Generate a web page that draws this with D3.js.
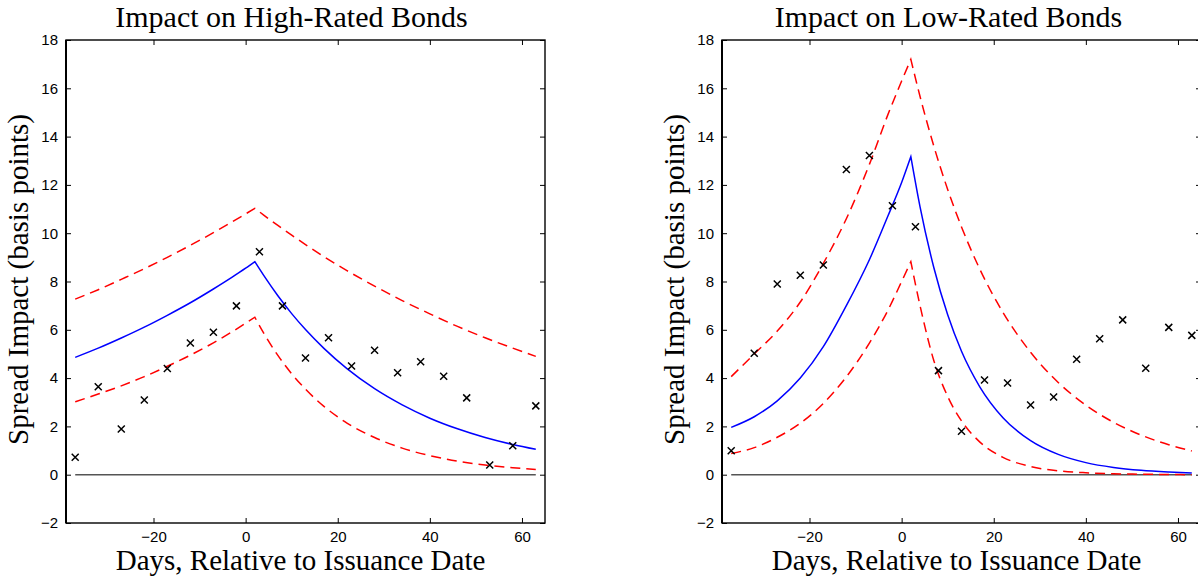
<!DOCTYPE html>
<html lang="en">
<head>
<meta charset="UTF-8">
<title>Spread Impact</title>
<script src="https://cdn.jsdelivr.net/npm/d3@7/dist/d3.min.js"></script>
<style>
    body { margin: 0; background: #fff; }
    svg { display: block; }
    .tick text { font-family: "Liberation Sans", Arial, sans-serif; font-size: 15px; fill: #000; }
    .tick line { stroke: #000; }
    .domain { display: none; }
    .title, .label { font-family: "Liberation Serif", "Times New Roman", serif; font-size: 29px; fill: #000; }
    .title { font-size: 30px; }
</style>
</head>
<body>
<svg width="1198" height="579"></svg>
<script>
// days of the fitted curves (split at the peak)
var riseDays = [-37, -32, -27, -22, -17, -12, -7, -3, 0, 2];
var fallDays = [2, 4, 7, 10, 13, 17, 22, 28, 34, 40, 46, 52, 58, 63];
// days of the observed averages
var obsDays = [-37, -32, -27, -22, -17, -12, -7, -2, 3, 8, 13, 18, 23, 28, 33, 38, 43, 48, 53, 58, 63];

// high-rated bonds
var highFitRise = [4.86, 5.24, 5.66, 6.11, 6.60, 7.12, 7.69, 8.17, 8.55, 8.82];
var highFitFall = [8.82, 8.23, 7.41, 6.67, 6.01, 5.23, 4.39, 3.56, 2.89, 2.34, 1.90, 1.54, 1.25, 1.05];
var highUpperRise = [7.27, 7.66, 8.09, 8.53, 9.00, 9.50, 10.02, 10.46, 10.80, 11.03];
var highUpperFall = [11.03, 10.74, 10.32, 9.92, 9.53, 9.03, 8.45, 7.81, 7.21, 6.66, 6.14, 5.67, 5.24, 4.90];
var highLowerRise = [3.02, 3.34, 3.68, 4.06, 4.49, 4.95, 5.46, 5.91, 6.27, 6.52];
var highLowerFall = [6.52, 5.84, 4.94, 4.18, 3.54, 2.83, 2.14, 1.54, 1.10, 0.79, 0.56, 0.40, 0.29, 0.22];
var highObs = [0.72, 3.64, 1.89, 3.09, 4.40, 5.45, 5.90, 6.99, 9.23, 6.99, 4.83, 5.67, 4.50, 5.15, 4.22, 4.68, 4.08, 3.18, 0.40, 1.20, 2.85];

// low-rated bonds
var lowFitRise = [1.96, 2.40, 3.06, 4.00, 5.30, 7.00, 8.90, 10.70, 12.10, 13.17];
var lowFitFall = [13.17, 11.09, 8.57, 6.62, 5.11, 3.63, 2.36, 1.41, 0.84, 0.50, 0.30, 0.18, 0.11, 0.07];
var lowUpperRise = [4.06, 5.00, 5.95, 7.15, 8.75, 10.60, 12.85, 14.90, 16.30, 17.20];
var lowUpperFall = [17.20, 15.66, 13.60, 11.81, 10.26, 8.50, 6.72, 5.07, 3.82, 2.88, 2.17, 1.64, 1.24, 0.98];
var lowLowerRise = [0.88, 1.12, 1.55, 2.13, 2.95, 4.05, 5.45, 6.80, 8.00, 8.82];
var lowLowerFall = [8.82, 7.00, 4.72, 3.24, 2.23, 1.35, 0.72, 0.34, 0.16, 0.08, 0.04, 0.02, 0.01, 0.00];
var lowObs = [0.99, 5.03, 7.90, 8.26, 8.68, 12.64, 13.22, 11.14, 10.27, 4.31, 1.80, 3.92, 3.80, 2.89, 3.22, 4.78, 5.63, 6.41, 4.41, 6.10, 5.77];

var xTicks = [-20, 0, 20, 40, 60];
var yTicks = [-2, 0, 2, 4, 6, 8, 10, 12, 14, 16, 18];

var svg = d3.select("svg");
var W = 479, plotTop = 40, plotBottom = 523;

function drawPanel(left, title, titleShift, fit, upper, lower, obs) {
    var x = d3.scaleLinear().domain([-39, 65]).range([left, left + W]);
    var y = d3.scaleLinear().domain([-2, 18]).range([plotBottom, plotTop]);
    var g = svg.append("g");

    // axes: labels on bottom/left, inward ticks on all four sides
    g.append("g").attr("transform", "translate(0," + plotBottom + ")")
        .call(d3.axisBottom(x).tickValues(xTicks).tickSizeInner(-5).tickSizeOuter(0).tickPadding(8));
    g.append("g").attr("transform", "translate(0," + plotTop + ")")
        .call(d3.axisTop(x).tickValues(xTicks).tickSizeInner(-5).tickSizeOuter(0).tickFormat(""));
    g.append("g").attr("transform", "translate(" + left + ",0)")
        .call(d3.axisLeft(y).tickValues(yTicks).tickSizeInner(-5).tickSizeOuter(0).tickPadding(8));
    g.append("g").attr("transform", "translate(" + (left + W) + ",0)")
        .call(d3.axisRight(y).tickValues(yTicks).tickSizeInner(-5).tickSizeOuter(0).tickFormat(""));
    g.append("rect")
        .attr("x", left).attr("y", plotTop)
        .attr("width", W).attr("height", plotBottom - plotTop)
        .attr("fill", "none").attr("stroke", "#000").attr("stroke-width", 1.4);
    g.append("line")
        .attr("x1", left).attr("x2", left)
        .attr("y1", plotTop).attr("y2", plotBottom)
        .attr("stroke", "#000").attr("stroke-width", 2);

    // zero line over the data range
    var ext = d3.extent(obsDays);
    g.append("path")
        .attr("d", d3.line()([[x(ext[0]), y(0)], [x(ext[1]), y(0)]]))
        .attr("stroke", "#555").attr("stroke-width", 1.4).attr("fill", "none");

    var line = d3.line()
        .x(function (d) { return x(d[0]); })
        .y(function (d) { return y(d[1]); })
        .curve(d3.curveMonotoneX);
    function curvePath(vals) {
        var a = line(d3.zip(riseDays, vals[0]));
        var b = line(d3.zip(fallDays, vals[1]));
        return a + "L" + b.slice(1);
    }

    [upper, lower].forEach(function (v) {
        g.append("path").attr("d", curvePath(v))
            .attr("fill", "none").attr("stroke", "#ff0000")
            .attr("stroke-width", 1.5).attr("stroke-dasharray", "10,6");
    });
    g.append("path").attr("d", curvePath(fit))
        .attr("fill", "none").attr("stroke", "#0000ff").attr("stroke-width", 1.5);

    g.selectAll(".obs")
        .data(d3.zip(obsDays, obs))
        .enter()
        .append("path")
        .attr("class", "obs")
        .attr("transform", function (d) { return "translate(" + x(d[0]) + "," + y(d[1]) + ")"; })
        .attr("d", "M-3.5,-3.5L3.5,3.5M-3.5,3.5L3.5,-3.5")
        .attr("stroke", "#000").attr("stroke-width", 1.5);

    var cx = left + W / 2;
    svg.append("text").attr("class", "title")
        .attr("x", cx + titleShift).attr("y", 27)
        .attr("text-anchor", "middle").text(title);
    svg.append("text").attr("class", "label")
        .attr("x", cx - 5).attr("y", 570)
        .attr("text-anchor", "middle").text("Days, Relative to Issuance Date");
    svg.append("text").attr("class", "label")
        .attr("transform", "translate(" + (left - 38) + "," + ((plotTop + plotBottom) / 2 - 2) + ") rotate(-90)")
        .attr("text-anchor", "middle").text("Spread Impact (basis points)");
}

drawPanel(66, "Impact on High-Rated Bonds", -14,
    [highFitRise, highFitFall], [highUpperRise, highUpperFall], [highLowerRise, highLowerFall], highObs);
drawPanel(722, "Impact on Low-Rated Bonds", -13,
    [lowFitRise, lowFitFall], [lowUpperRise, lowUpperFall], [lowLowerRise, lowLowerFall], lowObs);
</script>
</body>
</html>
